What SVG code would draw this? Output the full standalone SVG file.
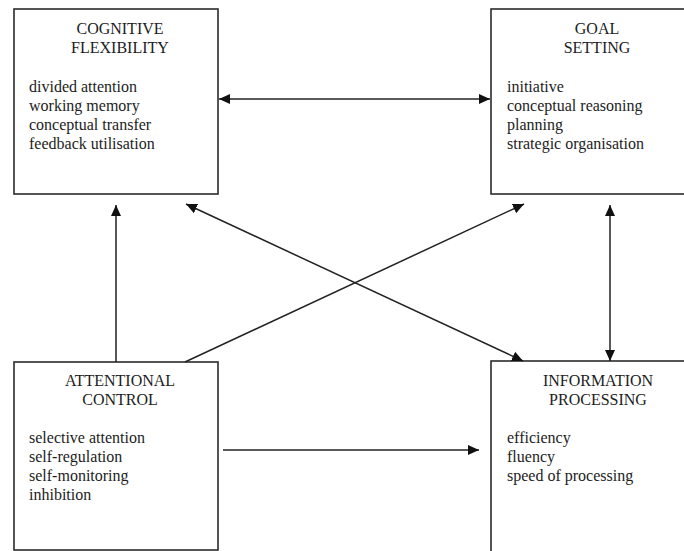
<svg xmlns="http://www.w3.org/2000/svg" width="684" height="551" viewBox="0 0 684 551">
<style>
.box{fill:#fff;stroke:#2b2b2b;stroke-width:1.6}
.t{font-family:"Liberation Serif","Times New Roman",serif;font-size:16px;fill:#1c1c1c}
.c{text-anchor:middle}
.ln{stroke:#222;stroke-width:1.5;fill:none}
</style>
<defs>
<marker id="ah" markerUnits="userSpaceOnUse" markerWidth="12" markerHeight="12" refX="11" refY="5" orient="auto-start-reverse" viewBox="0 0 12 10">
<path d="M0,0 L11,5 L0,10 Z" fill="#111"/>
</marker>
</defs>
<rect width="684" height="551" fill="#fff"/>
<g id="cognitive-flexibility">
<rect class="box" x="14" y="9" width="204" height="185"/>
<text class="t c" x="120" y="34">COGNITIVE</text>
<text class="t c" x="120" y="53">FLEXIBILITY</text>
<text class="t" x="29" y="92">divided attention</text>
<text class="t" x="29" y="111">working memory</text>
<text class="t" x="29" y="130">conceptual transfer</text>
<text class="t" x="29" y="149">feedback utilisation</text>
</g>
<g id="goal-setting">
<rect class="box" x="491" y="9" width="210" height="185"/>
<text class="t c" x="597" y="34">GOAL</text>
<text class="t c" x="597" y="53">SETTING</text>
<text class="t" x="507" y="92">initiative</text>
<text class="t" x="507" y="111">conceptual reasoning</text>
<text class="t" x="507" y="130">planning</text>
<text class="t" x="507" y="149">strategic organisation</text>
</g>
<g id="attentional-control">
<rect class="box" x="14" y="362" width="204" height="188"/>
<text class="t c" x="120" y="386">ATTENTIONAL</text>
<text class="t c" x="120" y="405">CONTROL</text>
<text class="t" x="29" y="443">selective attention</text>
<text class="t" x="29" y="462">self-regulation</text>
<text class="t" x="29" y="481">self-monitoring</text>
<text class="t" x="29" y="500">inhibition</text>
</g>
<g id="information-processing">
<rect class="box" x="491" y="361" width="210" height="200"/>
<text class="t c" x="598" y="386">INFORMATION</text>
<text class="t c" x="598" y="405">PROCESSING</text>
<text class="t" x="507" y="443">efficiency</text>
<text class="t" x="507" y="462">fluency</text>
<text class="t" x="507" y="481">speed of processing</text>
</g>
<g id="connectors">
<line class="ln" x1="219" y1="99" x2="490" y2="99" marker-start="url(#ah)" marker-end="url(#ah)"/>
<line class="ln" x1="116" y1="362" x2="116" y2="205" marker-end="url(#ah)"/>
<line class="ln" x1="185" y1="362" x2="524" y2="204" marker-end="url(#ah)"/>
<line class="ln" x1="186" y1="204" x2="523" y2="361" marker-start="url(#ah)" marker-end="url(#ah)"/>
<line class="ln" x1="610" y1="205" x2="610" y2="361" marker-start="url(#ah)" marker-end="url(#ah)"/>
<line class="ln" x1="223" y1="450" x2="479" y2="450" marker-end="url(#ah)"/>
</g>
</svg>
